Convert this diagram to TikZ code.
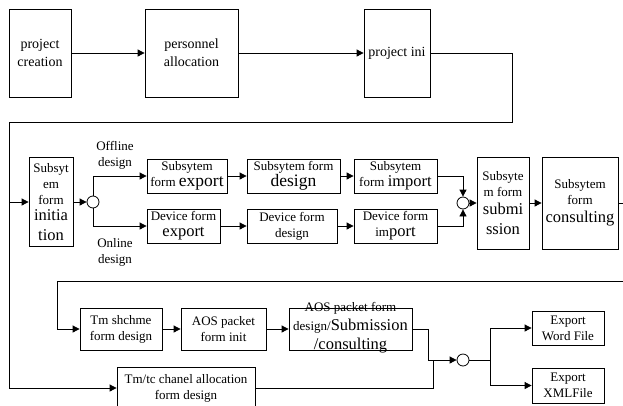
\documentclass[tikz,border=0pt]{standalone}
\usepackage{fontspec}
\setmainfont{Liberation Serif}
\usetikzlibrary{arrows.meta}
\newcommand\fsmall{\fontsize{13}{16}\selectfont}
\newcommand\ftopbox{\fontsize{14}{18}\selectfont}
\newcommand\flarge{\fontsize{16.5}{20}\selectfont}
\newcommand\fhuge{\fontsize{17.5}{20}\selectfont}
\begin{document}
\begin{tikzpicture}[x=1pt,y=-1pt,
  box/.style={draw, line width=0.8pt, inner sep=0pt, align=center, font=\fsmall},
  arr/.style={-{Triangle[length=7pt,width=7pt]}},
  ln/.style={line width=0.8pt},
  junc/.style={circle, draw, line width=0.8pt, minimum size=12pt, inner sep=0pt},
  lbl/.style={align=center, font=\fsmall, inner sep=0pt}]
\useasboundingbox[fill=white] (0,0) rectangle (623,405);
% top row
\node[box, font=\ftopbox, minimum width=62, minimum height=88] (pc) at (40,53) {project\\creation};
\node[box, font=\ftopbox, minimum width=93, minimum height=88] (pa) at (191.5,53) {personnel\\allocation};
\node[box, font=\ftopbox, minimum width=66, minimum height=88] (pi) at (397,53) {project ini};
\draw[ln,arr] (pc) -- (pa);
\draw[ln,arr] (pa) -- (pi);
% row 2
\node[box, minimum width=44, minimum height=89] (init) at (51,202) {Subsyt\\em\\form\\{\flarge initia}\\[4pt]{\flarge tion}};
\node[junc] (o1) at (93,202) {};
\node[box, minimum width=80, minimum height=34] (sexport) at (187,176) {Subsytem\\form {\fhuge export}};
\node[box, minimum width=93, minimum height=34] (sdesign) at (293.5,176) {Subsytem form\\{\fhuge design}};
\node[box, minimum width=83, minimum height=34] (simport) at (395.5,176) {Subsytem\\form {\flarge import}};
\node[box, minimum width=73, minimum height=34] (dexport) at (183.5,226) {Device form\\{\flarge export}};
\node[box, minimum width=90, minimum height=34] (ddesign) at (292,226) {Device form\\design};
\node[box, minimum width=83, minimum height=34] (dimport) at (395.5,226) {Device form\\im{\flarge port}};
\node[junc] (o2) at (463,203) {};
\node[box, minimum width=52, minimum height=92] (subm) at (503,203) {Subsyte\\m form\\[2pt]{\flarge submi}\\[4pt]{\flarge ssion}};
\node[box, minimum width=76, minimum height=92] (cons) at (580,203) {Subsytem\\form\\[2pt]{\flarge consulting}};
\node[lbl] (off) at (115,155) {Offline\\design};
\node[lbl] (on) at (115,252) {Online\\design};
% row 3
\node[box, minimum width=82, minimum height=42] (tms) at (121,329) {Tm shchme\\form design};
\node[box, minimum width=85, minimum height=42] (aosinit) at (223.5,329) {AOS packet\\form init};
\node[box, minimum width=123, minimum height=42] (aospk) at (350.5,329) {};
\node[lbl] (aost) at (350.5,328) {AOS packet form\\[3pt]design/{\flarge Submission}\\[3pt]{\flarge /consulting}};
\node[box, minimum width=138, minimum height=42] (tmtc) at (186,388) {Tm/tc chanel allocation\\form design};
\node[junc] (o3) at (463,360) {};
\node[box, minimum width=72, minimum height=34] (word) at (568,328) {Export\\Word File};
\node[box, minimum width=72, minimum height=35] (xml) at (568,385.5) {Export\\XMLFile};
% coordinates
\coordinate (r1) at (512,122);
\coordinate (l1) at (9,122);
\coordinate (l0) at (9,202);
\coordinate (l2) at (9,388);
\coordinate (re) at (623,203);
\coordinate (r3) at (623,281);
\coordinate (l3) at (57,281);
\coordinate (m1) at (428,329);
\coordinate (m2) at (428,360);
\coordinate (m3) at (433,388);
\coordinate (m4) at (433,360);
\coordinate (s1) at (490,360);
% connectors
\draw[ln] (pi.east) -| (r1) -- (l1) -- (l2);
\draw[ln,arr] (l0) -- (init.west);
\draw[ln,arr] (l2) -- (tmtc.west);
\draw[ln,arr] (init) -- (o1);
\draw[ln,arr] (o1.north) |- (sexport.west);
\draw[ln,arr] (o1.south) |- (dexport.west);
\draw[ln,arr] (sexport) -- (sdesign);
\draw[ln,arr] (sdesign) -- (simport);
\draw[ln,arr] (dexport) -- (ddesign);
\draw[ln,arr] (ddesign) -- (dimport);
\draw[ln,arr] (simport.east) -| (o2.north);
\draw[ln,arr] (dimport.east) -| (o2.south);
\draw[ln,arr] (o2) -- (subm);
\draw[ln,arr] (subm) -- (cons);
\draw[ln] (cons.east) -- (re);
\draw[ln] (r3) -- (l3);
\draw[ln,arr] (l3) |- (tms.west);
\draw[ln,arr] (tms) -- (aosinit);
\draw[ln,arr] (aosinit) -- (aospk);
\draw[ln] (aospk.east) -- (m1) -- (m2);
\draw[ln,arr] (m2) -- (o3.west);
\draw[ln] (tmtc.east) -- (m3) -- (m4);
\draw[ln] (o3.east) -- (s1);
\draw[ln,arr] (s1) |- (word.west);
\draw[ln,arr] (s1) |- (xml.west);
\end{tikzpicture}
\end{document}
